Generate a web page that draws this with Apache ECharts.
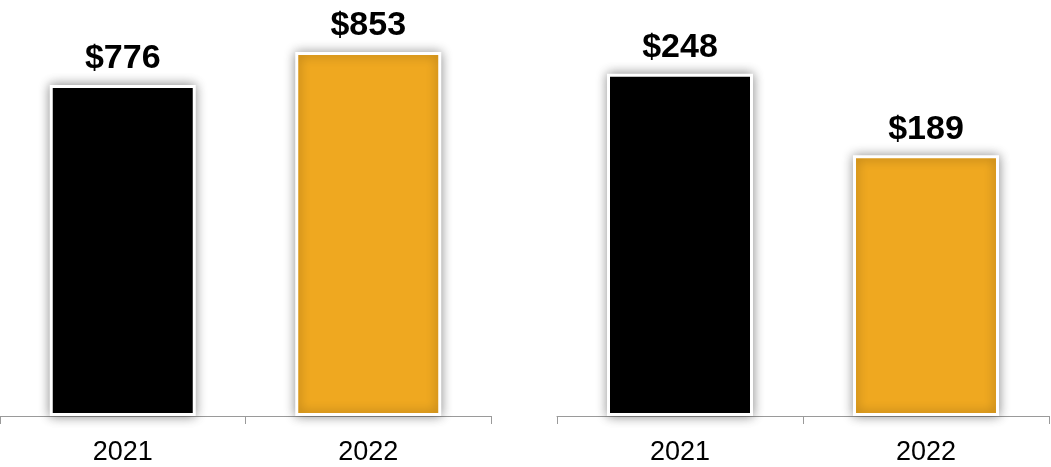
<!DOCTYPE html>
<html>
<head>
<meta charset="utf-8">
<script src="https://cdn.jsdelivr.net/npm/echarts@6/dist/echarts.min.js"></script>
<style>
  html, body { margin: 0; padding: 0; background: #fff; }
  #chart { width: 1051px; height: 467px; }
</style>
</head>
<body>
<div id="chart"></div>
<script>
// Year-over-year comparison, two panels sharing the same categories
var years = ['2021', '2022'];
var leftValues = [776, 853];
var rightValues = [248, 189];
var barColors = ['#000000', '#EFA820'];

var textFont = '"Liberation Sans", Arial, sans-serif';

function barData(values) {
  return values.map(function (v, i) {
    return { value: v, itemStyle: { color: barColors[i] } };
  });
}

function xAxisFor(gridIndex) {
  return {
    type: 'category',
    gridIndex: gridIndex,
    data: years,
    axisLine: { show: true, lineStyle: { color: '#9a9a9a', width: 1 } },
    axisTick: { show: true, length: 8, lineStyle: { color: '#9a9a9a', width: 1 } },
    axisLabel: { color: '#000', fontFamily: textFont, fontSize: 27, margin: 23 }
  };
}

function yAxisFor(gridIndex, max) {
  return {
    type: 'value',
    gridIndex: gridIndex,
    min: 0,
    max: max,
    show: false,
    splitLine: { show: false }
  };
}

function barSeries(index, values) {
  return {
    type: 'bar',
    xAxisIndex: index,
    yAxisIndex: index,
    barWidth: 146,
    data: barData(values),
    itemStyle: {
      borderColor: '#ffffff',
      borderWidth: 3,
      shadowBlur: 11,
      shadowColor: 'rgba(0,0,0,0.42)'
    },
    label: {
      show: true,
      position: 'top',
      distance: 9,
      color: '#000',
      fontFamily: textFont,
      fontWeight: 'bold',
      fontSize: 34,
      formatter: function (p) { return '$' + p.value; }
    }
  };
}

var chart = echarts.init(document.getElementById('chart'), null, { renderer: 'canvas' });
chart.setOption({
  animation: false,
  backgroundColor: '#ffffff',
  grid: [
    { left: 0, right: 560, top: 32, bottom: 51 },
    { left: 557, right: 2, top: 2, bottom: 51 }
  ],
  xAxis: [xAxisFor(0), xAxisFor(1)],
  yAxis: [yAxisFor(0, 900), yAxisFor(1, 300)],
  series: [barSeries(0, leftValues), barSeries(1, rightValues)]
});
</script>
</body>
</html>
